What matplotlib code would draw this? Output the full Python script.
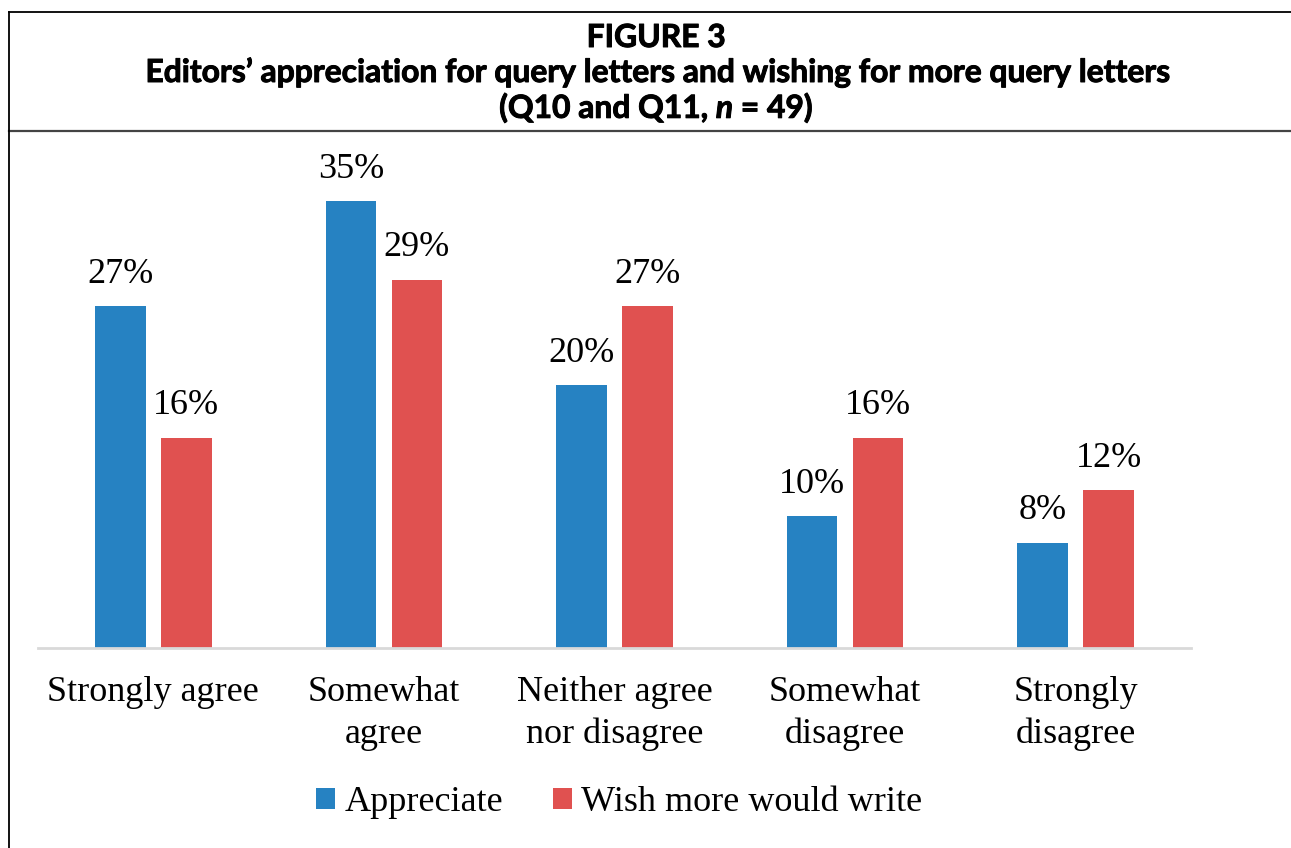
import matplotlib
matplotlib.use("Agg")
import matplotlib.pyplot as plt
import matplotlib.patheffects as pe
import numpy as np
from matplotlib.lines import Line2D

categories = ["Strongly agree", "Somewhat\nagree", "Neither agree\nnor disagree",
              "Somewhat\ndisagree", "Strongly\ndisagree"]
n_resp = 49
# respondent counts (bars are drawn at count / n, labels are rounded %)
appreciate = [13, 17, 10, 5, 4]
wish_more = [8, 14, 13, 8, 6]
series_names = ["Appreciate", "Wish more would write"]
colors = ["#2682C2", "#E05150"]

plt.rcParams["mathtext.fontset"] = "custom"
plt.rcParams["mathtext.bfit"] = "Lato:italic:bold"

W, H = 1291, 848
fig = plt.figure(figsize=(W / 100, H / 100), dpi=100)
serif = "Liberation Serif"

# frame lines around the figure
def hline(y, x0, x1, lw=1.3, c="black"):
    fig.add_artist(Line2D([x0 / W, x1 / W], [1 - y / H, 1 - y / H], color=c, lw=lw))

hline(12, 9, W)
hline(131, 9, W, lw=1.6, c="#444444")
fig.add_artist(Line2D([9 / W, 9 / W], [1 - 12 / H, 0], color="black", lw=1.3))

# a thin stroke makes Lato Bold look closer to the heavy original face
heavy = [pe.withStroke(linewidth=0.7, foreground="black")]
title_font = dict(family="Lato", weight="bold", fontsize=22.9, ha="center",
                  va="baseline", path_effects=heavy)
fig.text(656 / W, 1 - 47 / H, "FIGURE 3", **title_font)
fig.text(656 / W, 1 - 82 / H,
         "Editors\u2019 appreciation for query letters and wishing for more query letters",
         **title_font)
fig.text(656 / W, 1 - 118 / H, r"(Q10 and Q11, $\mathbfit{n}$ = 49)", **title_font)

px_per_pct = 12.89
ax = fig.add_axes([38 / W, 1 - 648 / H, (1191 - 38) / W, 40 * px_per_pct / H])
x = np.arange(len(categories))
width = 0.22
offset = 0.143
pct1 = [100 * c / n_resp for c in appreciate]
pct2 = [100 * c / n_resp for c in wish_more]
b1 = ax.bar(x - offset, pct1, width, color=colors[0], label=series_names[0])
b2 = ax.bar(x + offset, pct2, width, color=colors[1], label=series_names[1])

for bars, vals in ((b1, pct1), (b2, pct2)):
    for rect, v in zip(bars, vals):
        ax.annotate(f"{round(v)}%", (rect.get_x() + rect.get_width() / 2, v),
                    xytext=(0, 11), textcoords="offset points",
                    ha="center", va="bottom", fontsize=26, family=serif)

ax.set_xlim(-0.5, 4.5)
ax.set_ylim(0, 40)
ax.set_yticks([])
ax.set_xticks(x)
ax.set_xticklabels(categories, fontsize=26, family=serif, linespacing=1.35)
ax.tick_params(axis="x", length=0, pad=20)
for s in ["top", "right", "left"]:
    ax.spines[s].set_visible(False)
ax.spines["bottom"].set_color("#D9D9D9")
ax.spines["bottom"].set_linewidth(2)

leg = ax.legend(loc="center", bbox_to_anchor=(0.504, -0.30), ncol=2, frameon=False,
                prop={"family": serif, "size": 26}, handlelength=0.53, handleheight=0.53,
                handletextpad=0.25, columnspacing=1.39)

fig.savefig("out.png", dpi=100)
